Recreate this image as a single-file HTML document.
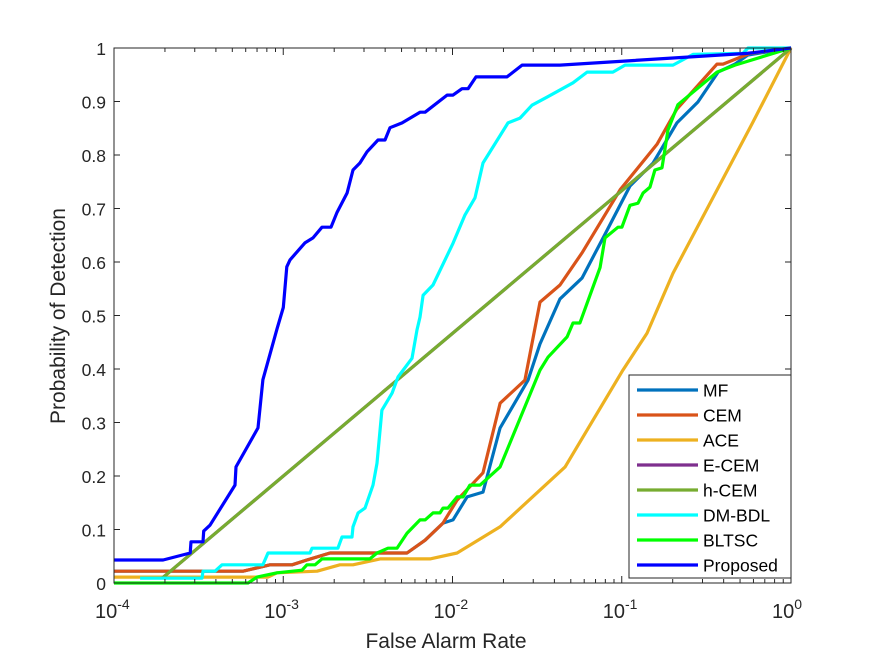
<!DOCTYPE html>
<html><head><meta charset="utf-8"><style>
body{margin:0;background:#fff;}
svg{display:block;font-family:"Liberation Sans",Arial,sans-serif;}
</style></head><body>
<svg id="chart" width="875" height="656" viewBox="0 0 875 656">
<rect x="0" y="0" width="875" height="656" fill="#fff"/>
<g id="plot"></g>
<g id="axes"></g>
<text x="446" y="648" font-size="21" text-anchor="middle" fill="#262626">False Alarm Rate</text>
<text transform="translate(65,316) rotate(-90)" font-size="21" text-anchor="middle" fill="#262626">Probability of Detection</text>
<g id="legend"></g>
</svg>
<script>
// x data stored as log10(False Alarm Rate)
const seriesNames = ["MF","CEM","ACE","E-CEM","h-CEM","DM-BDL","BLTSC","Proposed"];
const seriesColors = ["#0072BD","#D95319","#EDB120","#7E2F8E","#77AC30","#00FFFF","#00FF00","#0000FF"];
const xTicks = [-4,-3,-2,-1,0];
const yTicks = [0,0.1,0.2,0.3,0.4,0.5,0.6,0.7,0.8,0.9,1];
const yTickLabels = ["0","0.1","0.2","0.3","0.4","0.5","0.6","0.7","0.8","0.9","1"];

const mfLogFar = [-4,-3.238,-3.078,-2.948,-2.86,-2.724,-2.269,-2.162,-2.056,-1.997,-1.914,-1.82,-1.719,-1.554,-1.483,-1.365,-1.235,-1.099,-0.951,-0.815,-0.674,-0.55,-0.431,-0.331,-0.254,0];
const mfPd = [0.022,0.022,0.034,0.034,0.043,0.056,0.056,0.080,0.112,0.118,0.161,0.170,0.290,0.379,0.447,0.531,0.570,0.652,0.742,0.785,0.860,0.899,0.955,0.970,0.987,1];
const cemLogFar = [-4,-3.238,-3.078,-2.948,-2.86,-2.724,-2.269,-2.162,-2.056,-1.973,-1.82,-1.719,-1.572,-1.483,-1.365,-1.235,-1.01,-0.792,-0.674,-0.437,-0.402,-0.242,0];
const cemPd = [0.022,0.022,0.034,0.034,0.043,0.056,0.056,0.080,0.112,0.155,0.206,0.336,0.379,0.525,0.557,0.617,0.735,0.82,0.886,0.970,0.970,0.99,1];
const aceLogFar = [-4,-3.09,-3.037,-2.8,-2.665,-2.588,-2.428,-2.133,-1.973,-1.719,-1.335,-0.993,-0.851,-0.697,-0.224,0];
const acePd = [0.011,0.011,0.019,0.022,0.034,0.034,0.045,0.045,0.056,0.105,0.217,0.398,0.467,0.579,0.862,1];
const ecemLogFar = [-3.716,0];
const ecemPd = [0.009,1];
const hcemLogFar = [-3.716,0];
const hcemPd = [0.009,1];
const dmLogFar = [-3.846,-3.48,-3.474,-3.403,-3.362,-3.12,-3.09,-2.842,-2.83,-2.677,-2.653,-2.594,-2.588,-2.558,-2.517,-2.47,-2.446,-2.417,-2.357,-2.322,-2.239,-2.21,-2.192,-2.174,-2.115,-1.997,-1.926,-1.867,-1.82,-1.672,-1.601,-1.53,-1.442,-1.288,-1.205,-1.052,-0.981,-0.697,-0.579,-0.284,-0.254,0];
const dmPd = [0.009,0.009,0.022,0.022,0.034,0.034,0.056,0.056,0.065,0.065,0.086,0.086,0.105,0.131,0.140,0.183,0.224,0.323,0.355,0.385,0.420,0.473,0.497,0.538,0.557,0.635,0.688,0.720,0.785,0.860,0.869,0.893,0.908,0.935,0.955,0.955,0.968,0.968,0.988,0.99,1,1];
const bltscLogFar = [-4,-3.208,-3.155,-3.037,-2.889,-2.86,-2.812,-2.771,-2.488,-2.446,-2.381,-2.328,-2.269,-2.192,-2.162,-2.115,-2.074,-2.056,-2.027,-1.973,-1.938,-1.897,-1.837,-1.719,-1.483,-1.436,-1.323,-1.288,-1.247,-1.205,-1.128,-1.099,-1.022,-0.999,-0.951,-0.904,-0.874,-0.833,-0.804,-0.762,-0.727,-0.668,-0.437,-0.331,0];
const bltscPd = [0,0,0.011,0.019,0.024,0.034,0.034,0.045,0.045,0.056,0.065,0.065,0.093,0.118,0.118,0.131,0.131,0.140,0.140,0.161,0.161,0.183,0.183,0.217,0.398,0.422,0.460,0.486,0.486,0.523,0.590,0.645,0.665,0.665,0.706,0.710,0.729,0.740,0.772,0.776,0.847,0.894,0.955,0.968,1];
const propLogFar = [-4,-3.71,-3.55,-3.545,-3.474,-3.47,-3.433,-3.285,-3.279,-3.149,-3.12,-3.037,-3.0,-2.979,-2.96,-2.871,-2.824,-2.771,-2.718,-2.682,-2.623,-2.588,-2.547,-2.505,-2.44,-2.399,-2.369,-2.298,-2.239,-2.192,-2.162,-2.032,-1.997,-1.944,-1.908,-1.861,-1.678,-1.589,-1.365,-0.26,0];
const propPd = [0.043,0.043,0.056,0.077,0.077,0.097,0.108,0.183,0.217,0.290,0.380,0.475,0.515,0.591,0.604,0.636,0.645,0.665,0.665,0.693,0.729,0.772,0.785,0.806,0.828,0.828,0.851,0.860,0.871,0.880,0.880,0.912,0.912,0.924,0.924,0.946,0.946,0.968,0.968,0.99,1];

const seriesX = [mfLogFar,cemLogFar,aceLogFar,ecemLogFar,hcemLogFar,dmLogFar,bltscLogFar,propLogFar];
const seriesY = [mfPd,cemPd,acePd,ecemPd,hcemPd,dmPd,bltscPd,propPd];

const X0=114, X1=791, Y0=583, Y1=48;
function xs(l){return X0+(l-xTicks[0])/(xTicks[xTicks.length-1]-xTicks[0])*(X1-X0);}
function ys(v){return Y0-(v-yTicks[0])/(yTicks[yTicks.length-1]-yTicks[0])*(Y0-Y1);}
const NS="http://www.w3.org/2000/svg";
function mk(tag,attrs,parent){const e=document.createElementNS(NS,tag);for(const k in attrs)e.setAttribute(k,attrs[k]);parent.appendChild(e);return e;}

const plot=document.getElementById('plot');
[0,1,2,3,4,5,6,7].forEach(i=>{
  const pts=seriesX[i].map((v,j)=>xs(v).toFixed(1)+','+ys(seriesY[i][j]).toFixed(1)).join(' ');
  const pl=mk('polyline',{points:pts,fill:'none',stroke:seriesColors[i],'stroke-width':3.2,'stroke-linejoin':'round'},plot);
  
  
});

const axes=document.getElementById('axes');
const box=mk('rect',{x:X0,y:Y1,width:X1-X0,height:Y0-Y1,fill:'none',stroke:'#262626','stroke-width':1},axes);


yTicks.forEach((v,i)=>{
  const y=ys(v);
  mk('line',{x1:X0,x2:X0+6,y1:y,y2:y,stroke:'#262626'},axes);
  mk('line',{x1:X1,x2:X1-6,y1:y,y2:y,stroke:'#262626'},axes);
  const t=mk('text',{x:X0-8,y:y+7,'font-size':17.5,'text-anchor':'end',fill:'#262626'},axes);
  t.textContent=yTickLabels[i];
  
  
});
xTicks.forEach((d,i)=>{
  const x=xs(d);
  mk('line',{x1:x,x2:x,y1:Y0,y2:Y0-7,stroke:'#262626'},axes);
  mk('line',{x1:x,x2:x,y1:Y1,y2:Y1+7,stroke:'#262626'},axes);
  if(i<xTicks.length-1){
    for(let k=2;k<=9;k++){
      const xm=xs(d+Math.log10(k));
      mk('line',{x1:xm,x2:xm,y1:Y0,y2:Y0-4,stroke:'#262626'},axes);
      mk('line',{x1:xm,x2:xm,y1:Y1,y2:Y1+4,stroke:'#262626'},axes);
    }
  }
  const t=mk('text',{x:x-19,y:618,'font-size':20,'text-anchor':'start',fill:'#262626'},axes);
  
  
  const a=mk('tspan',{},t); a.textContent='10';
  const b=mk('tspan',{dy:-9,'font-size':14},t); b.textContent=String(d);
});

const leg=document.getElementById('legend');
const lb=mk('rect',{x:629,y:375,width:162,height:203,fill:'#fff',stroke:'#262626','stroke-width':1},leg);


seriesNames.forEach((n,i)=>{
  const y=390+i*25;
  const g=mk('g',{},leg);
  
  
  mk('line',{x1:637,x2:698,y1:y,y2:y,stroke:seriesColors[i],'stroke-width':3.2},g);
  const t=mk('text',{x:703,y:y+6.5,'font-size':17.5,fill:'#000'},g);
  t.textContent=n;
});
</script>
</body></html>
